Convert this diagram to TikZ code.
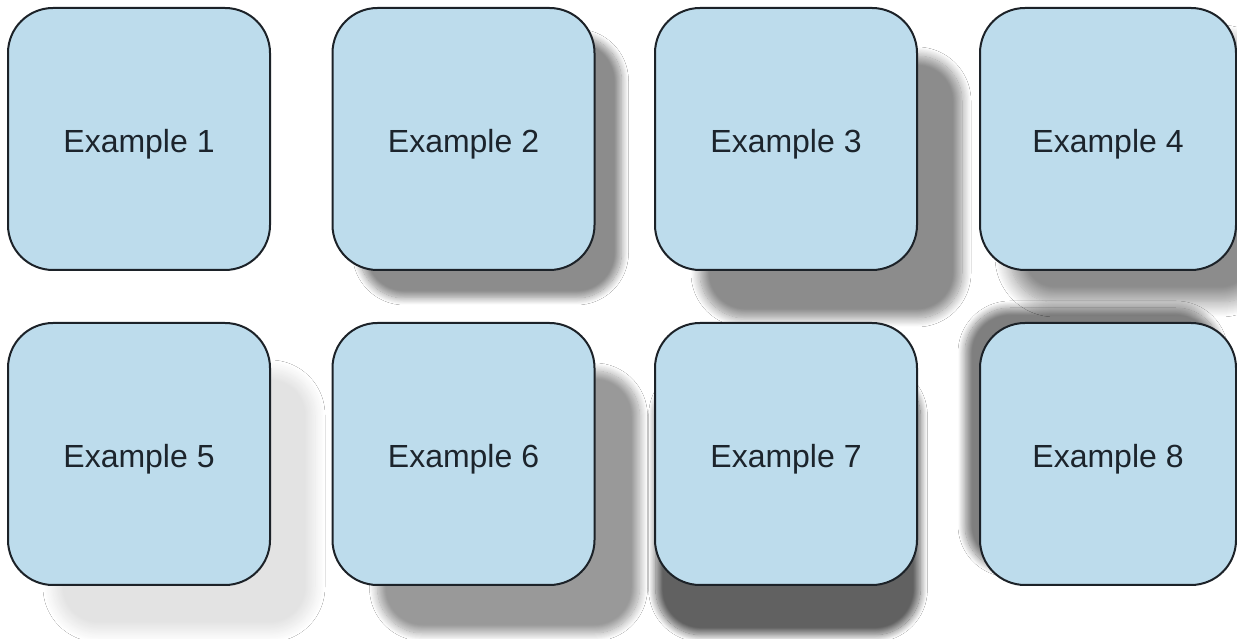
\documentclass[tikz,border=0pt]{standalone}
\usepackage{fontspec}
\setmainfont{Liberation Sans}
\usetikzlibrary{shadows.blur}
\definecolor{boxfill}{RGB}{189,220,236}
\definecolor{boxline}{RGB}{28,34,40}
\definecolor{txt}{RGB}{28,36,44}
\tikzset{
  card/.style={draw=boxline, line width=2pt, fill=boxfill, rounded corners=45pt,
    minimum width=262pt, minimum height=262pt, inner sep=0pt, text=txt,
    text height=35pt, text depth=7pt,
    font=\fontsize{32}{38}\selectfont},
  sh/.style n args={5}{blur shadow={shadow xshift=#1, shadow yshift=#2,
    shadow opacity=#3, shadow blur radius=#4, shadow scale=#5, shadow blur steps=16}}
}
\begin{document}
\begin{tikzpicture}[x=1pt,y=1pt]
\useasboundingbox (0,0) rectangle (1237,639);
\fill[white] (0,0) rectangle (1237,639);
% top row
\node[card] (e1) at (139,500) {Example 1};
\node[card, sh={27pt}{-28pt}{45}{7pt}{1}] (e2) at (463.5,500) {Example 2};
\node[card, sh={45pt}{-48pt}{45}{9pt}{1}] (e3) at (786,500) {Example 3};
\node[card, minimum width=256pt, sh={30pt}{-32pt}{45}{15pt}{1}] (e4) at (1108,500) {Example 4};
% bottom row
\node[card, sh={45pt}{-47pt}{11}{10pt}{1}] (e5) at (139,185) {Example 5};
\node[card, sh={45pt}{-48pt}{40}{8pt}{1}] (e6) at (463.5,185) {Example 6};
\node[card, sh={2pt}{-48pt}{62}{7pt}{1.01}] (e7) at (786,185) {Example 7};
\node[card, minimum width=256pt, sh={-15pt}{15pt}{50}{7pt}{1}] (e8) at (1108,185) {Example 8};
\end{tikzpicture}
\end{document}
